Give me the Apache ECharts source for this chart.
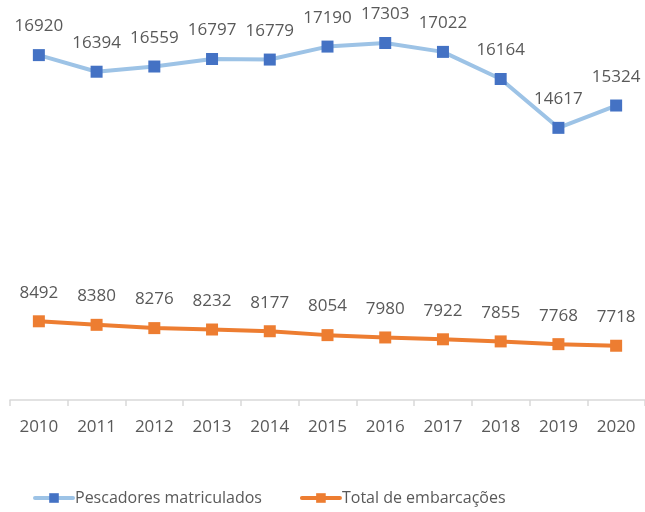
<!DOCTYPE html>
<html><head><meta charset="utf-8">
<script src="https://cdn.jsdelivr.net/npm/echarts@6/dist/echarts.min.js"></script>
<style>html,body{margin:0;padding:0;background:#fff}#c{width:645px;height:512px}</style>
</head><body><div id="c"></div>
<script>
const years = ['2010','2011','2012','2013','2014','2015','2016','2017','2018','2019','2020'];
const pescadores = [16920,16394,16559,16797,16779,17190,17303,17022,16164,14617,15324];
const embarcacoes = [8492,8380,8276,8232,8177,8054,7980,7922,7855,7768,7718];
const seriesNames = ['Pescadores matriculados','Total de embarcações'];

const font = '"Open Sans", sans-serif';
const chart = echarts.init(document.getElementById('c'));
function mk(name, data, lineColor, markColor){
  return {
    name, type:'line', data,
    symbol:'rect', symbolSize:12,
    lineStyle:{color:lineColor,width:4},
    itemStyle:{color:markColor},
    label:{show:true,position:'top',distance:14,color:'#595959',fontSize:17,fontFamily:font},
    emphasis:{disabled:true}, animation:false
  };
}
chart.setOption({
  animation:false,
  grid:{left:10,right:0,top:21,bottom:112,containLabel:false},
  xAxis:{type:'category',data:years,boundaryGap:true,
    axisLine:{lineStyle:{color:'#D9D9D9',width:1.5}},
    axisTick:{show:true,length:6,lineStyle:{color:'#D9D9D9',width:1.5}},
    axisLabel:{color:'#595959',fontSize:17,fontFamily:font,margin:19}},
  yAxis:{type:'value',min:6000,max:18000,show:false,splitLine:{show:false}},
  legend:{left:33,top:490,padding:0,itemWidth:38,itemHeight:12,itemGap:38,
    lineStyle:{width:4,cap:'round'},
    textStyle:{color:'#595959',fontSize:16,fontFamily:font,padding:[0,0,0,-3]},
    data:seriesNames},
  series:[
    mk(seriesNames[0], pescadores, '#9DC3E6', '#4472C4'),
    mk(seriesNames[1], embarcacoes, '#ED7D31', '#ED7D31')
  ]
});
</script></body></html>
